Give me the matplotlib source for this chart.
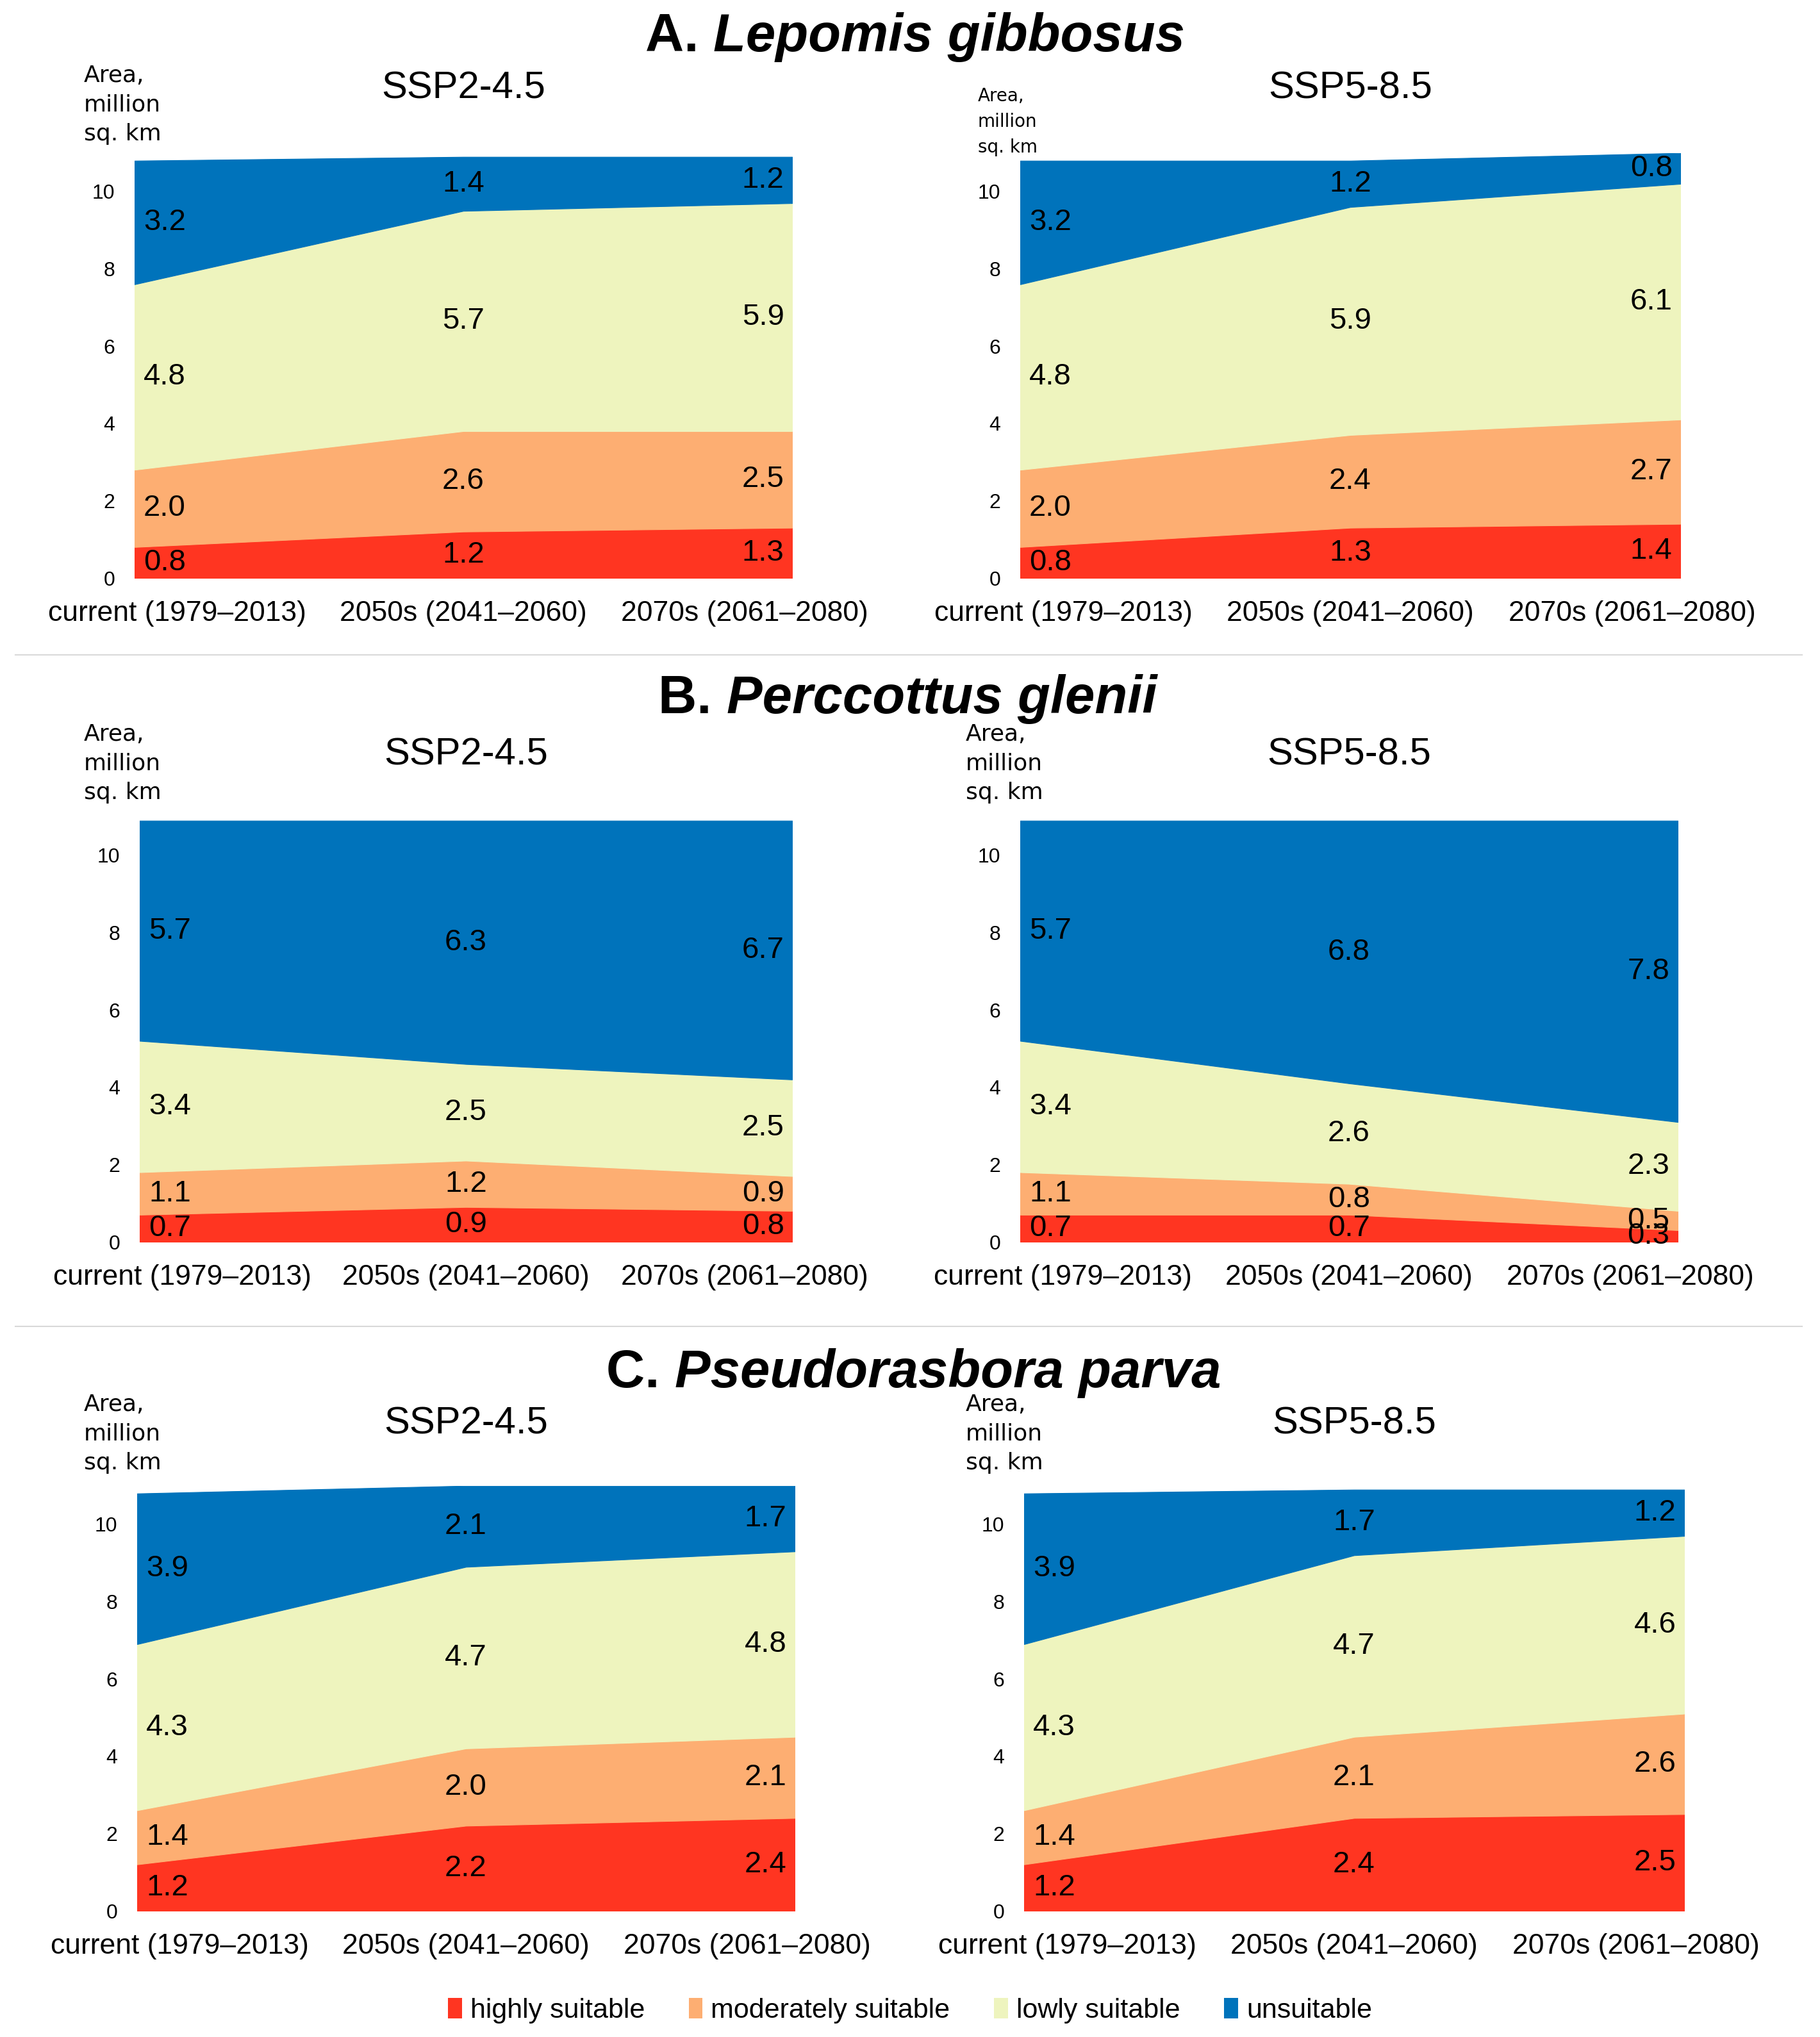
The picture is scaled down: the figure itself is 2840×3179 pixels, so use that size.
import numpy as np
import matplotlib
matplotlib.use('Agg')
import matplotlib.pyplot as plt
from matplotlib.patches import Patch
from matplotlib.lines import Line2D

plt.rcParams['font.family'] = 'Liberation Sans'

# ------------------------------------------------------------
# Data (million sq. km), rows: highly, moderately, lowly, unsuitable
# ------------------------------------------------------------
periods = ['current (1979\u20132013)', '2050s (2041\u20132060)', '2070s (2061\u20132080)']
classes = ['highly suitable', 'moderately suitable', 'lowly suitable', 'unsuitable']
colors = ['#FF3521', '#FDAE72', '#EEF4BE', '#0073BB']

lepomis_ssp245 = [[0.8, 1.2, 1.3], [2.0, 2.6, 2.5], [4.8, 5.7, 5.9], [3.2, 1.4, 1.2]]
lepomis_ssp585 = [[0.8, 1.3, 1.4], [2.0, 2.4, 2.7], [4.8, 5.9, 6.1], [3.2, 1.2, 0.8]]
perccottus_ssp245 = [[0.7, 0.9, 0.8], [1.1, 1.2, 0.9], [3.4, 2.5, 2.5], [5.7, 6.3, 6.7]]
perccottus_ssp585 = [[0.7, 0.7, 0.3], [1.1, 0.8, 0.5], [3.4, 2.6, 2.3], [5.7, 6.8, 7.8]]
pseudorasbora_ssp245 = [[1.2, 2.2, 2.4], [1.4, 2.0, 2.1], [4.3, 4.7, 4.8], [3.9, 2.1, 1.7]]
pseudorasbora_ssp585 = [[1.2, 2.4, 2.5], [1.4, 2.1, 2.6], [4.3, 4.7, 4.6], [3.9, 1.7, 1.2]]

species = [('A. ', 'Lepomis gibbosus'), ('B. ', 'Perccottus glenii'), ('C. ', 'Pseudorasbora parva')]
scenarios = ['SSP2-4.5', 'SSP5-8.5']

# ------------------------------------------------------------
# Layout (pixels of the 2840 x 3179 output)
# ------------------------------------------------------------
W, H = 2840, 3179
UNIT = 60.3          # pixels per million sq. km
YMAX = 11

fig = plt.figure(figsize=(W / 100, H / 100), dpi=100)


def fx(x):
    return x / W


def fy(y):
    return 1 - y / H


def draw_panel(data, x0, x1, zero_y, scen, title_y, ylab_xy, ylab_size, ylab_ls):
    ax = fig.add_axes([fx(x0), fy(zero_y), (x1 - x0) / W, YMAX * UNIT / H])
    xs = np.arange(len(periods))
    polys = ax.stackplot(xs, data, colors=colors)
    for p in polys:
        p.set_edgecolor('face')
        p.set_linewidth(0.8)
    ax.set_xlim(0, 2)
    ax.set_ylim(0, YMAX)
    for s in ax.spines.values():
        s.set_visible(False)
    ax.set_yticks(range(0, 11, 2))
    ax.tick_params(axis='y', length=0, pad=22, labelsize=23)
    ax.set_xticks([0.13, 1.0, 1.855])
    ax.set_xticklabels(periods)
    ax.tick_params(axis='x', length=0, pad=25, labelsize=32)

    # data labels at the middle of each band
    arr = np.array(data)
    cum = np.cumsum(arr, axis=0)
    for k in range(arr.shape[0]):
        for j in range(arr.shape[1]):
            mid = cum[k, j] - arr[k, j] / 2
            if j == 0:
                ha, dx = 'left', 10
            elif j == 2:
                ha, dx = 'right', -9
            else:
                ha, dx = 'center', 0
            ax.annotate(f'{arr[k, j]:.1f}', (j, mid), xytext=(dx, 0),
                        textcoords='offset points', ha=ha, va='center',
                        fontsize=34, color='black')

    fig.text(fx((x0 + x1) / 2), fy(title_y), scen, ha='center', va='baseline', fontsize=43)
    fig.text(fx(ylab_xy[0]), fy(ylab_xy[1]), 'Area,\nmillion\nsq. km', ha='left', va='top',
             family='DejaVu Sans', fontsize=ylab_size, linespacing=ylab_ls)
    return ax


# species rows: (data left, data right, zero y, x-extents, scenario baseline, ylabel spots)
rows = [
    (lepomis_ssp245, lepomis_ssp585, 902, (210, 1236), (1592, 2622), 153,
     ((131, 101), 26, 1.42), ((1526, 136), 20, 1.55)),
    (perccottus_ssp245, perccottus_ssp585, 1938, (218, 1236), (1592, 2618), 1193,
     ((131, 1129), 26, 1.42), ((1507, 1129), 26, 1.42)),
    (pseudorasbora_ssp245, pseudorasbora_ssp585, 2982, (214, 1240), (1598, 2628), 2237,
     ((131, 2175), 26, 1.42), ((1507, 2175), 26, 1.42)),
]

for dl, dr, zy, xl, xr, ty, yl_l, yl_r in rows:
    draw_panel(dl, xl[0], xl[1], zy, scenarios[0], ty, *yl_l)
    draw_panel(dr, xr[0], xr[1], zy, scenarios[1], ty, *yl_r)

# species headings: upright letter + italic name, centred together
title_base = [80, 1113, 2165]
title_cx = [1428, 1416, 1426]
renderer = fig.canvas.get_renderer()
for (pre, name), by, cx in zip(species, title_base, title_cx):
    t1 = fig.text(0, fy(by), pre, fontsize=60, fontweight='bold', va='baseline', ha='left')
    t2 = fig.text(0, fy(by), name, fontsize=60, fontweight='bold', style='italic',
                  va='baseline', ha='left')
    w1 = t1.get_window_extent(renderer).width
    w2 = t2.get_window_extent(renderer).width
    left = cx - (w1 + w2) / 2
    t1.set_x(fx(left))
    t2.set_x(fx(left + w1))

# separators between species rows
for sy in [1022, 2070]:
    fig.add_artist(Line2D([fx(24), fx(2812)], [fy(sy), fy(sy)], color='#D9D9D9', lw=1.5))

# legend
handles = [Patch(facecolor=c, edgecolor='none') for c in colors]
fig.legend(handles, classes, loc='center', bbox_to_anchor=(0.5, fy(3138)), ncol=4,
           frameon=False, fontsize=31, handlelength=0.5, handleheight=0.75,
           handletextpad=0.3, columnspacing=1.6)

fig.savefig('out.png', dpi=100)
